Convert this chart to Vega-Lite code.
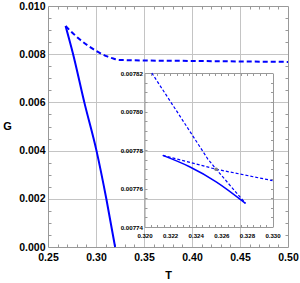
{
  "$schema": "https://vega.github.io/schema/vega-lite/v6.json",
  "width": 240,
  "height": 241,
  "autosize": "none",
  "padding": {"left": 48, "top": 6, "right": 12, "bottom": 36},
  "config": {
    "view": {"stroke": null},
    "axis": {
      "labelFont": "Liberation Sans",
      "titleFont": "Liberation Sans",
      "labelFontWeight": "bold",
      "titleFontWeight": "bold",
      "labelColor": "#000000",
      "titleColor": "#000000",
      "domainColor": "#999999",
      "tickColor": "#999999",
      "labelFlush": false,
      "labelOverlap": false,
      "grid": false
    }
  },
  "datasets": {
    "mainDashed": [
      {"T": 0.2683, "G": 0.00917},
      {"T": 0.2759, "G": 0.00887},
      {"T": 0.2829, "G": 0.00862},
      {"T": 0.2968, "G": 0.00822},
      {"T": 0.3108, "G": 0.00792},
      {"T": 0.318, "G": 0.00782},
      {"T": 0.324, "G": 0.00776},
      {"T": 0.33, "G": 0.007755},
      {"T": 0.35, "G": 0.00774},
      {"T": 0.4, "G": 0.00772},
      {"T": 0.45, "G": 0.0077},
      {"T": 0.5, "G": 0.00768}
    ],
    "mainSolid": [
      {"T": 0.2683, "G": 0.00917},
      {"T": 0.2759, "G": 0.00804},
      {"T": 0.2881, "G": 0.00596},
      {"T": 0.3005, "G": 0.004},
      {"T": 0.3108, "G": 0.00199},
      {"T": 0.3199, "G": 0.0}
    ],
    "insetSolid": [
      {"T": 0.32143, "G": 0.0077772},
      {"T": 0.32352, "G": 0.0077713},
      {"T": 0.3256, "G": 0.0077635},
      {"T": 0.32789, "G": 0.0077523}
    ],
    "insetDashed": [
      {"branch": "a", "T": 0.32143, "G": 0.0077772},
      {"branch": "a", "T": 0.3256, "G": 0.00777},
      {"branch": "a", "T": 0.33, "G": 0.0077641},
      {"branch": "b", "T": 0.32057, "G": 0.00782},
      {"branch": "b", "T": 0.32273, "G": 0.007798},
      {"branch": "b", "T": 0.32495, "G": 0.0077753},
      {"branch": "b", "T": 0.3256, "G": 0.00777},
      {"branch": "b", "T": 0.32789, "G": 0.0077523}
    ],
    "dot": [
      {"T": 0.3256, "G": 0.00777}
    ]
  },
  "layer": [
    {
      "resolve": {"axis": {"x": "independent", "y": "independent"}},
      "layer": [
        {
          "data": {"name": "mainDashed"},
          "mark": {"type": "line", "color": "#0000ff", "strokeWidth": 2, "strokeDash": [5, 3], "interpolate": "monotone"},
          "encoding": {
            "x": {
              "field": "T", "type": "quantitative",
              "scale": {"domain": [0.25, 0.5], "nice": false, "zero": false},
              "axis": {
                "orient": "bottom",
                "values": [0.25, 0.3, 0.35, 0.4, 0.45, 0.5],
                "format": ".2f",
                "grid": true,
                "gridColor": "#c4c4c4",
                "gridOpacity": {"condition": {"test": "datum.value > 0.26 && datum.value < 0.49", "value": 1}, "value": 0},
                "ticks": false,
                "tickSize": 0,
                "labelPadding": 5,
                "labelFontSize": 10.5,
                "title": "T",
                "titleFontSize": 11,
                "titleBaseline": "middle",
                "titleY": 28
              }
            },
            "y": {
              "field": "G", "type": "quantitative",
              "scale": {"domain": [0, 0.01], "nice": false, "zero": false},
              "axis": {
                "orient": "left",
                "values": [0, 0.002, 0.004, 0.006, 0.008, 0.01],
                "format": ".3f",
                "grid": true,
                "gridColor": "#c4c4c4",
                "gridOpacity": {"condition": {"test": "datum.value > 0.0001 && datum.value < 0.0099", "value": 1}, "value": 0},
                "ticks": false,
                "tickSize": 0,
                "labelPadding": 3,
                "labelFontSize": 10.5,
                "title": "G",
                "titleFontSize": 11,
                "titleAngle": 0,
                "titleAlign": "center",
                "titleBaseline": "middle",
                "titleX": -41,
                "titleY": 120.5
              }
            }
          }
        },
        {
          "data": {"name": "mainSolid"},
          "mark": {"type": "line", "color": "#0000ff", "strokeWidth": 2, "interpolate": "monotone"},
          "encoding": {
            "x": {
              "field": "T", "type": "quantitative",
              "scale": {"domain": [0.25, 0.5], "nice": false, "zero": false},
              "axis": {
                "orient": "top",
                "values": [0.26, 0.27, 0.28, 0.29, 0.31, 0.32, 0.33, 0.34, 0.36, 0.37, 0.38, 0.39, 0.41, 0.42, 0.43, 0.44, 0.46, 0.47, 0.48, 0.49],
                "labels": false,
                "tickSize": -3,
                "title": null
              }
            },
            "y": {
              "field": "G", "type": "quantitative",
              "scale": {"domain": [0, 0.01], "nice": false, "zero": false},
              "axis": {
                "orient": "right",
                "values": [0.0005, 0.001, 0.0015, 0.0025, 0.003, 0.0035, 0.0045, 0.005, 0.0055, 0.0065, 0.007, 0.0075, 0.0085, 0.009, 0.0095],
                "labels": false,
                "tickSize": -3,
                "title": null
              }
            }
          }
        },
        {
          "data": {"name": "mainSolid"},
          "mark": {"type": "line", "opacity": 0},
          "encoding": {
            "x": {
              "field": "T", "type": "quantitative",
              "scale": {"domain": [0.25, 0.5], "nice": false, "zero": false},
              "axis": {
                "orient": "bottom",
                "values": [0.26, 0.27, 0.28, 0.29, 0.31, 0.32, 0.33, 0.34, 0.36, 0.37, 0.38, 0.39, 0.41, 0.42, 0.43, 0.44, 0.46, 0.47, 0.48, 0.49],
                "labels": false,
                "domain": false,
                "tickSize": -3,
                "title": null
              }
            },
            "y": {
              "field": "G", "type": "quantitative",
              "scale": {"domain": [0, 0.01], "nice": false, "zero": false},
              "axis": {
                "orient": "left",
                "values": [0.0005, 0.001, 0.0015, 0.0025, 0.003, 0.0035, 0.0045, 0.005, 0.0055, 0.0065, 0.007, 0.0075, 0.0085, 0.009, 0.0095],
                "labels": false,
                "domain": false,
                "tickSize": -3,
                "title": null
              }
            }
          }
        }
      ]
    },
    {
      "resolve": {"axis": {"x": "independent", "y": "independent"}},
      "layer": [
        {
          "data": {"name": "insetDashed"},
          "mark": {"type": "line", "color": "#0000ff", "strokeWidth": 1.2, "strokeDash": [3, 2]},
          "encoding": {
            "detail": {"field": "branch", "type": "nominal"},
            "x": {
              "field": "T", "type": "quantitative",
              "scale": {"domain": [0.32, 0.33], "range": [96.5, 224.5], "nice": false, "zero": false},
              "axis": {
                "orient": "bottom",
                "offset": -20,
                "values": [0.32, 0.322, 0.324, 0.326, 0.328, 0.33],
                "format": ".3f",
                "ticks": false,
                "tickSize": 0,
                "labelPadding": 5,
                "labelFontSize": 6.1,
                "title": null
              }
            },
            "y": {
              "field": "G", "type": "quantitative",
              "scale": {"domain": [0.00774, 0.00782], "range": [221, 67], "nice": false, "zero": false},
              "axis": {
                "orient": "left",
                "offset": -96.5,
                "values": [0.00774, 0.00776, 0.00778, 0.0078, 0.00782],
                "format": ".5f",
                "ticks": false,
                "tickSize": 0,
                "labelPadding": 2,
                "labelFontSize": 6.2,
                "title": null
              }
            }
          }
        },
        {
          "data": {"name": "insetSolid"},
          "mark": {"type": "line", "color": "#0000ff", "strokeWidth": 1.5, "interpolate": "monotone"},
          "encoding": {
            "x": {
              "field": "T", "type": "quantitative",
              "scale": {"domain": [0.32, 0.33], "range": [96.5, 224.5], "nice": false, "zero": false},
              "axis": {
                "orient": "top",
                "offset": -67,
                "values": [0.3205, 0.321, 0.3215, 0.322, 0.3225, 0.323, 0.3235, 0.324, 0.3245, 0.325, 0.3255, 0.326, 0.3265, 0.327, 0.3275, 0.328, 0.3285, 0.329, 0.3295],
                "labels": false,
                "tickSize": -2.5,
                "title": null
              }
            },
            "y": {
              "field": "G", "type": "quantitative",
              "scale": {"domain": [0.00774, 0.00782], "range": [221, 67], "nice": false, "zero": false},
              "axis": {
                "orient": "right",
                "offset": -15,
                "values": [0.007745, 0.00775, 0.007755, 0.00776, 0.007765, 0.00777, 0.007775, 0.00778, 0.007785, 0.00779, 0.007795, 0.0078, 0.007805, 0.00781, 0.007815],
                "labels": false,
                "tickSize": -2.5,
                "title": null
              }
            }
          }
        },
        {
          "data": {"name": "insetSolid"},
          "mark": {"type": "line", "opacity": 0},
          "encoding": {
            "x": {
              "field": "T", "type": "quantitative",
              "scale": {"domain": [0.32, 0.33], "range": [96.5, 224.5], "nice": false, "zero": false},
              "axis": {
                "orient": "bottom",
                "offset": -20,
                "values": [0.3205, 0.321, 0.3215, 0.322, 0.3225, 0.323, 0.3235, 0.324, 0.3245, 0.325, 0.3255, 0.326, 0.3265, 0.327, 0.3275, 0.328, 0.3285, 0.329, 0.3295],
                "labels": false,
                "domain": false,
                "tickSize": -2.5,
                "title": null
              }
            },
            "y": {
              "field": "G", "type": "quantitative",
              "scale": {"domain": [0.00774, 0.00782], "range": [221, 67], "nice": false, "zero": false},
              "axis": {
                "orient": "left",
                "offset": -96.5,
                "values": [0.007745, 0.00775, 0.007755, 0.00776, 0.007765, 0.00777, 0.007775, 0.00778, 0.007785, 0.00779, 0.007795, 0.0078, 0.007805, 0.00781, 0.007815],
                "labels": false,
                "domain": false,
                "tickSize": -2.5,
                "title": null
              }
            }
          }
        },
        {
          "data": {"name": "dot"},
          "mark": {"type": "point", "filled": true, "color": "#808080", "size": 14, "opacity": 1},
          "encoding": {
            "x": {
              "field": "T", "type": "quantitative",
              "scale": {"domain": [0.32, 0.33], "range": [96.5, 224.5], "nice": false, "zero": false},
              "axis": null
            },
            "y": {
              "field": "G", "type": "quantitative",
              "scale": {"domain": [0.00774, 0.00782], "range": [221, 67], "nice": false, "zero": false},
              "axis": null
            }
          }
        }
      ]
    }
  ],
  "resolve": {"scale": {"x": "independent", "y": "independent"}}
}
